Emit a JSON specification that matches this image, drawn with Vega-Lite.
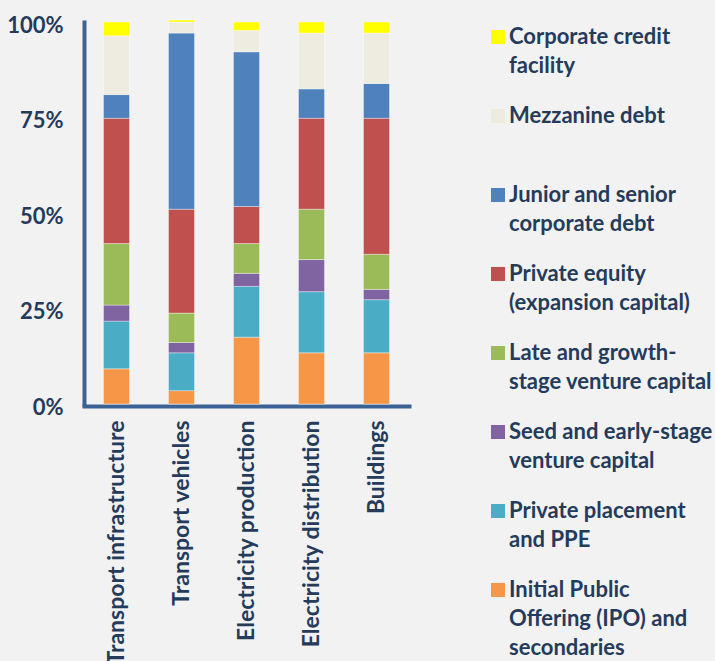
{
  "$schema": "https://vega.github.io/schema/vega-lite/v6.json",
  "width": 325,
  "height": 382,
  "autosize": {"type": "none"},
  "padding": {"left": 84, "top": 22, "right": 306, "bottom": 257},
  "background": "#f2f2f2",
  "datasets": {
    "types": [
      {"type": "Initial Public Offering (IPO) and secondaries", "rank": 1},
      {"type": "Private placement and PPE", "rank": 2},
      {"type": "Seed and early-stage venture capital", "rank": 3},
      {"type": "Late and growth-stage venture capital", "rank": 4},
      {"type": "Private equity (expansion capital)", "rank": 5},
      {"type": "Junior and senior corporate debt", "rank": 6},
      {"type": "Mezzanine debt", "rank": 7},
      {"type": "Corporate credit facility", "rank": 8}
    ]
  },
  "data": {
    "values": [
      {"sector": "Transport infrastructure", "type": "Initial Public Offering (IPO) and secondaries", "share": 9.2},
      {"sector": "Transport infrastructure", "type": "Private placement and PPE", "share": 12.5},
      {"sector": "Transport infrastructure", "type": "Seed and early-stage venture capital", "share": 4.2},
      {"sector": "Transport infrastructure", "type": "Late and growth-stage venture capital", "share": 16.1},
      {"sector": "Transport infrastructure", "type": "Private equity (expansion capital)", "share": 32.8},
      {"sector": "Transport infrastructure", "type": "Junior and senior corporate debt", "share": 6.2},
      {"sector": "Transport infrastructure", "type": "Mezzanine debt", "share": 15.4},
      {"sector": "Transport infrastructure", "type": "Corporate credit facility", "share": 3.6},
      {"sector": "Transport vehicles", "type": "Initial Public Offering (IPO) and secondaries", "share": 3.5},
      {"sector": "Transport vehicles", "type": "Private placement and PPE", "share": 9.9},
      {"sector": "Transport vehicles", "type": "Seed and early-stage venture capital", "share": 2.7},
      {"sector": "Transport vehicles", "type": "Late and growth-stage venture capital", "share": 7.7},
      {"sector": "Transport vehicles", "type": "Private equity (expansion capital)", "share": 27.2},
      {"sector": "Transport vehicles", "type": "Junior and senior corporate debt", "share": 46.1},
      {"sector": "Transport vehicles", "type": "Mezzanine debt", "share": 2.9},
      {"sector": "Transport vehicles", "type": "Corporate credit facility", "share": 0.5},
      {"sector": "Electricity production", "type": "Initial Public Offering (IPO) and secondaries", "share": 17.5},
      {"sector": "Electricity production", "type": "Private placement and PPE", "share": 13.3},
      {"sector": "Electricity production", "type": "Seed and early-stage venture capital", "share": 3.4},
      {"sector": "Electricity production", "type": "Late and growth-stage venture capital", "share": 7.8},
      {"sector": "Electricity production", "type": "Private equity (expansion capital)", "share": 9.7},
      {"sector": "Electricity production", "type": "Junior and senior corporate debt", "share": 40.5},
      {"sector": "Electricity production", "type": "Mezzanine debt", "share": 5.6},
      {"sector": "Electricity production", "type": "Corporate credit facility", "share": 2.2},
      {"sector": "Electricity distribution", "type": "Initial Public Offering (IPO) and secondaries", "share": 13.4},
      {"sector": "Electricity distribution", "type": "Private placement and PPE", "share": 16.0},
      {"sector": "Electricity distribution", "type": "Seed and early-stage venture capital", "share": 8.4},
      {"sector": "Electricity distribution", "type": "Late and growth-stage venture capital", "share": 13.2},
      {"sector": "Electricity distribution", "type": "Private equity (expansion capital)", "share": 23.8},
      {"sector": "Electricity distribution", "type": "Junior and senior corporate debt", "share": 7.7},
      {"sector": "Electricity distribution", "type": "Mezzanine debt", "share": 14.6},
      {"sector": "Electricity distribution", "type": "Corporate credit facility", "share": 2.9},
      {"sector": "Buildings", "type": "Initial Public Offering (IPO) and secondaries", "share": 13.4},
      {"sector": "Buildings", "type": "Private placement and PPE", "share": 13.9},
      {"sector": "Buildings", "type": "Seed and early-stage venture capital", "share": 2.7},
      {"sector": "Buildings", "type": "Late and growth-stage venture capital", "share": 9.2},
      {"sector": "Buildings", "type": "Private equity (expansion capital)", "share": 35.6},
      {"sector": "Buildings", "type": "Junior and senior corporate debt", "share": 9.1},
      {"sector": "Buildings", "type": "Mezzanine debt", "share": 13.2},
      {"sector": "Buildings", "type": "Corporate credit facility", "share": 2.9}
    ]
  },
  "transform": [
    {"lookup": "type", "from": {"data": {"name": "types"}, "key": "type", "fields": ["rank"]}}
  ],
  "mark": {"type": "bar", "stroke": "#ffffff", "strokeWidth": 0.6, "strokeOpacity": 0.6},
  "encoding": {
    "x": {
      "field": "sector",
      "type": "nominal",
      "sort": ["Transport infrastructure", "Transport vehicles", "Electricity production", "Electricity distribution", "Buildings"],
      "scale": {"paddingInner": 0.6, "paddingOuter": 0.3},
      "axis": {
        "title": null,
        "labelAngle": -90,
        "labelFontSize": 23,
        "labelFontWeight": "bold",
        "labelColor": "#243b5b",
        "labelPadding": 14,
        "labelLimit": 500,
        "ticks": false,
        "domainColor": "#3a6295",
        "domainWidth": 4,
        "domainCap": "square",
        "offset": 2
      }
    },
    "y": {
      "field": "share",
      "type": "quantitative",
      "stack": "zero",
      "scale": {"domain": [0, 100], "nice": false},
      "axis": {
        "title": null,
        "values": [0, 25, 50, 75, 100],
        "labelExpr": "datum.value + '%'",
        "labelFontSize": 22,
        "labelFontWeight": "bold",
        "labelColor": "#243b5b",
        "labelPadding": 21,
        "labelOffset": 3,
        "ticks": false,
        "grid": false,
        "domainColor": "#3a6295",
        "domainWidth": 4,
        "domainCap": "square"
      }
    },
    "order": {"field": "rank", "type": "quantitative", "sort": "ascending"},
    "color": {
      "field": "type",
      "type": "nominal",
      "scale": {
        "domain": ["Corporate credit facility", "Mezzanine debt", "Junior and senior corporate debt", "Private equity (expansion capital)", "Late and growth-stage venture capital", "Seed and early-stage venture capital", "Private placement and PPE", "Initial Public Offering (IPO) and secondaries"],
        "range": ["#ffff00", "#eeece1", "#4f81bd", "#c0504d", "#9bbb59", "#8064a2", "#4bacc6", "#f79646"]
      },
      "legend": {
        "title": null,
        "orient": "none",
        "legendX": 403,
        "legendY": 4,
        "direction": "vertical",
        "padding": 0,
        "symbolType": "square",
        "symbolSize": 196,
        "symbolStrokeWidth": 0,
        "symbolOpacity": 1,
        "labelFontSize": 22,
        "labelFontWeight": "bold",
        "labelColor": "#243b5b",
        "labelOffset": 0,
        "labelLimit": 500,
        "labelBaseline": "middle",
        "rowPadding": 28,
        "labelExpr": "{'Corporate credit facility': ['Corporate credit', 'facility'], 'Mezzanine debt': ['Mezzanine debt', ' '], 'Junior and senior corporate debt': ['Junior and senior', 'corporate debt'], 'Private equity (expansion capital)': ['Private equity', '(expansion capital)'], 'Late and growth-stage venture capital': ['Late and growth-', 'stage venture capital'], 'Seed and early-stage venture capital': ['Seed and early-stage', 'venture capital'], 'Private placement and PPE': ['Private placement', 'and PPE'], 'Initial Public Offering (IPO) and secondaries': ['Initial Public', 'Offering (IPO) and', 'secondaries']}[datum.label]"
      }
    }
  },
  "config": {
    "view": {"stroke": null},
    "font": "Lato",
    "style": {"guide-label": {"lineHeight": 29}}
  }
}
